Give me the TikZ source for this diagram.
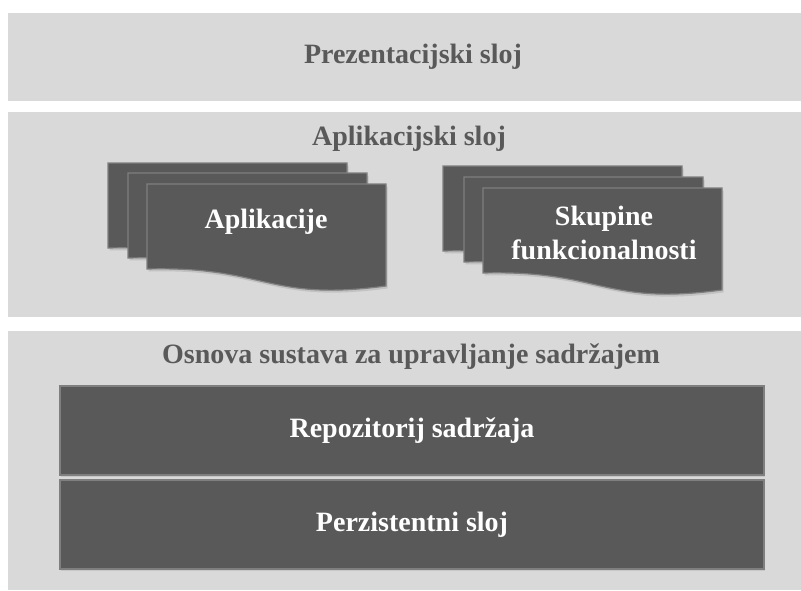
\documentclass[tikz,border=0pt]{standalone}
\usepackage{fontspec}
\setmainfont{Liberation Serif}
\usetikzlibrary{shadows}
\definecolor{panelgray}{HTML}{D9D9D9}
\definecolor{darkfill}{HTML}{595959}
\definecolor{edgegray}{HTML}{7F7F7F}
\tikzset{
  panel/.style={fill=panelgray, draw=none},
  paneltitle/.style={text=darkfill, font=\bfseries\fontsize{28}{32}\selectfont, inner sep=0pt},
  darkbox/.style={fill=darkfill, draw=edgegray, line width=1.5pt, text=white,
    font=\bfseries\fontsize{28}{32}\selectfont,
    drop shadow={opacity=0.2, shadow xshift=1pt, shadow yshift=-1.5pt}},
  docstyle/.style={fill=darkfill, draw=edgegray, line width=1.2pt,
    drop shadow={opacity=0.25, shadow xshift=1.5pt, shadow yshift=-2.5pt}},
  doctext/.style={text=white, font=\bfseries\fontsize{28}{34}\selectfont, align=center, inner sep=0pt},
  docpage/.pic={
    \filldraw[docstyle] (0,0) -- (239,0) -- (239,102)
      .. controls (119.5,118) and (119.5,82) .. (0,85) -- cycle;
  }
}
\begin{document}
\begin{tikzpicture}[x=1pt, y=-1pt]
\useasboundingbox (0,0) rectangle (801,590);
% panels
\fill[panel] (8,13) rectangle (801,101);
\fill[panel] (8,112) rectangle (801,317);
\fill[panel] (8,331) rectangle (801,590);
\node[paneltitle] (pres) at (413,57) {Prezentacijski sloj};
\node[paneltitle] (app) at (409,139) {Aplikacijski sloj};
\node[paneltitle] (base) at (411,357) {Osnova sustava za upravljanje sadržajem};
% application stacks
\pic at (108,163) {docpage};
\pic at (128,173) {docpage};
\pic at (147,184) {docpage};
\pic at (443,166) {docpage};
\pic at (464,177) {docpage};
\pic at (483,188) {docpage};
\node[doctext] (apl) at (266,222) {Aplikacije};
\node[doctext] (skup) at (604,233) {Skupine\\funkcionalnosti};
% content management base
\node[darkbox, minimum width=704pt, minimum height=89pt] (repo) at (412,430.5) {Repozitorij sadržaja};
\node[darkbox, minimum width=704pt, minimum height=89pt] (pers) at (412,524.5) {Perzistentni sloj};
\end{tikzpicture}
\end{document}
